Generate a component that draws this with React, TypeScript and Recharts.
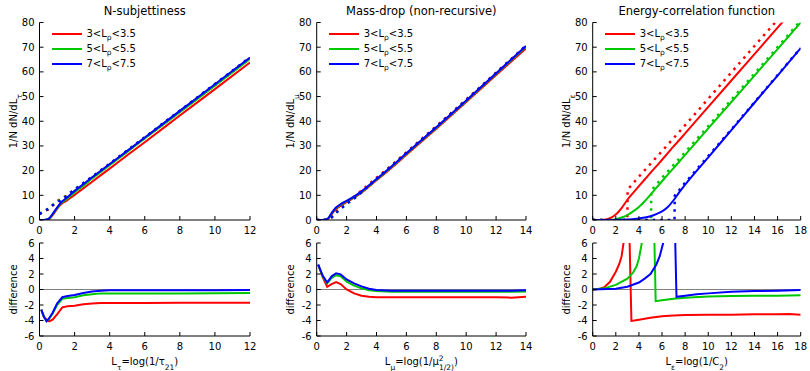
import { LineChart, Line, XAxis, YAxis, ReferenceLine, Legend } from 'recharts';
import type { ReactNode } from 'react';

const FONT = '"DejaVu Sans", "Liberation Sans", sans-serif';
const RED = '#ff0000';
const GREEN = '#00c800';
const BLUE = '#0000ff';
const BIN_NAMES = ['3<Lρ<3.5', '5<Lρ<5.5', '7<Lρ<7.5'];

const MAIN_Y_TICKS = [0, 10, 20, 30, 40, 50, 60, 70, 80];
const DIFF_Y_TICKS = [-6, -4, -2, 0, 2, 4, 6];
const TAU_TICKS = [0, 2, 4, 6, 8, 10, 12];
const MU_TICKS = [0, 2, 4, 6, 8, 10, 12, 14];
const ECF_TICKS = [0, 2, 4, 6, 8, 10, 12, 14, 16, 18];

// N-subjettiness: MC (solid) and analytic (dotted)
const tauX = [0, 0.25, 0.5, 0.75, 1, 1.25, 1.5, 2, 2.5, 3, 4, 5, 6, 8, 10, 12];
const tauRed = [0, 0, 0.2, 2, 4.5, 6.5, 7.6, 10.2, 12.8, 15.5, 20.8, 26.2, 31.5, 42.3, 53, 63.8];
const tauGreen = [0, 0, 0.3, 2.3, 4.8, 7, 8.2, 11.2, 13.9, 16.8, 22.2, 27.6, 33, 43.7, 54.4, 65.2];
const tauBlue = [0, 0, 0.4, 2.5, 5, 7.3, 8.7, 11.8, 14.5, 17.3, 22.7, 28, 33.4, 44.2, 55, 65.8];
const tauRedA = [2.4, 3.4, 4.3, 5.9, 7.6, 8.7, 9.7, 12.3, 14.7, 17.3, 22.5, 27.9, 33.2, 44, 54.7, 65.5];
const tauGreenA = [2.5, 3.5, 4.5, 6.1, 7.4, 8.5, 9.6, 12.3, 14.8, 17.4, 22.7, 28.1, 33.5, 44.2, 54.9, 65.7];
const tauBlueA = [2.5, 3.5, 4.5, 6.0, 7.0, 8.2, 9.5, 12.4, 15.0, 17.5, 22.8, 28.1, 33.5, 44.3, 55.1, 65.9];
const tauDX = [0.1, 0.25, 0.4, 0.55, 0.75, 1, 1.3, 1.6, 2, 2.5, 3, 3.5, 4, 5, 6, 8, 10, 12];
const tauDRed = [-2.6, -3.5, -3.9, -4.1, -3.9, -3.2, -2.3, -2.15, -2.1, -1.9, -1.8, -1.75, -1.75, -1.75, -1.75, -1.72, -1.72, -1.7];
const tauDGreen = [-2.6, -3.5, -4.1, -3.8, -3.1, -2.0, -1.2, -1.1, -1.0, -0.75, -0.6, -0.5, -0.5, -0.5, -0.5, -0.5, -0.48, -0.45];
const tauDBlue = [-2.6, -3.5, -4.1, -3.7, -3.0, -1.8, -1.0, -0.85, -0.7, -0.45, -0.25, -0.15, -0.1, -0.1, -0.1, -0.1, -0.1, -0.08];

// Mass-drop
const muX = [0, 0.25, 0.5, 0.75, 1, 1.25, 1.5, 2, 2.5, 3, 4, 5, 6, 8, 10, 12, 14];
const muRed = [0, 0, 0.1, 0.5, 2.4, 4.2, 5.4, 7.2, 9.0, 11.1, 16.1, 21.1, 26.4, 37.0, 47.8, 58.7, 69.5];
const muGreen = [0, 0, 0.1, 0.6, 2.7, 4.6, 5.8, 7.6, 9.3, 11.4, 16.4, 21.5, 26.8, 37.4, 48.2, 59.2, 70.2];
const muBlue = [0, 0, 0.1, 0.6, 2.8, 4.8, 6.0, 7.8, 9.5, 11.6, 16.6, 21.7, 27.0, 37.6, 48.4, 59.4, 70.5];
const muRedA = [0, 0, 0, 0.2, 1.7, 3.3, 4.7, 7.2, 9.5, 11.9, 17.1, 22.1, 27.4, 38.0, 48.8, 59.7, 70.5];
const muGreenA = [0, 0, 0, 0, 1.1, 2.8, 4.0, 6.6, 8.7, 11.2, 16.6, 21.8, 27.1, 37.7, 48.5, 59.5, 70.5];
const muBlueA = [0, 0, 0, 0, 1.0, 2.7, 4.0, 6.5, 8.7, 11.2, 16.7, 21.85, 27.15, 37.75, 48.55, 59.55, 70.6];
const muDX = [0.1, 0.4, 0.7, 1.0, 1.3, 1.6, 2, 2.5, 3, 3.5, 4, 5, 6, 8, 10, 12, 13, 14];
const muDRed = [3.2, 1.6, 0.35, 0.7, 0.95, 0.7, 0.0, -0.5, -0.8, -0.95, -1.0, -1.0, -1.0, -1.0, -1.0, -1.0, -1.05, -0.95];
const muDGreen = [3.2, 1.7, 0.8, 1.5, 1.85, 1.7, 1.0, 0.5, 0.15, -0.1, -0.2, -0.3, -0.3, -0.3, -0.3, -0.3, -0.3, -0.25];
const muDBlue = [3.2, 1.8, 0.9, 1.7, 2.1, 1.95, 1.3, 0.8, 0.4, 0.1, -0.05, -0.15, -0.15, -0.15, -0.15, -0.15, -0.15, -0.1];

// Energy-correlation function
const ecfX = [0, 1, 1.5, 2, 2.5, 3, 3.5, 4, 4.5, 5, 5.5, 6, 6.5, 7, 7.5, 8, 10, 12, 14, 16, 18];
const ecfRed = [0, 0.1, 0.7, 2.2, 4.8, 8.2, 11, 13.7, 16.4, 19.1, 21.7, 24.4, 27.1, 29.8, 32.4, 35.1, 45.8, 56.5, 67.2, 77.9, 88.6];
const ecfGreen = [0, 0, 0.05, 0.3, 1.0, 2.0, 3.5, 5.3, 7.6, 10.3, 13.0, 15.7, 18.4, 21.0, 23.7, 26.4, 37.1, 47.8, 58.5, 69.2, 80];
const ecfBlue = [0, 0, 0, 0.05, 0.1, 0.2, 0.35, 0.6, 1.0, 1.5, 2.4, 3.5, 5.3, 8.0, 11.3, 14.3, 25.4, 36.4, 47.5, 58.5, 69.6];
const ecfRedAX = [0, 3, 3.02, 4, 6, 8, 10, 12, 14, 16, 18];
const ecfRedA = [0, 0, 12.3, 17.6, 27.9, 38.4, 49.1, 59.8, 70.5, 81.1, 91.8];
const ecfGreenAX = [0, 5.05, 5.07, 6, 8, 10, 12, 14, 16, 18];
const ecfGreenA = [0, 0, 11.9, 17.1, 27.5, 38.0, 48.7, 59.3, 70.0, 80.8];
const ecfBlueAX = [0, 7.08, 7.1, 8, 10, 12, 14, 16, 18];
const ecfBlueA = [0, 0, 9.8, 15.1, 25.9, 36.7, 47.7, 58.7, 69.7];
const ecfDRedX = [0, 0.5, 1, 1.5, 2, 2.3, 2.5, 2.7, 2.9, 3.15, 3.35, 3.6, 4, 5, 6, 7, 8, 10, 12, 14, 16, 17, 18];
const ecfDRed = [0, 0.05, 0.3, 1.0, 2.3, 3.3, 4.3, 6.3, 9, 9, -4.05, -4.0, -3.9, -3.65, -3.45, -3.35, -3.3, -3.25, -3.25, -3.2, -3.2, -3.15, -3.25];
const ecfDGreenX = [0, 1, 2, 3, 3.5, 3.8, 4.0, 4.2, 4.6, 5.3, 5.45, 6, 7, 8, 10, 12, 14, 16, 18];
const ecfDGreen = [0, 0.15, 0.6, 1.4, 2.2, 3.0, 4.0, 5.6, 9, 9, -1.5, -1.4, -1.2, -1.05, -0.9, -0.85, -0.8, -0.8, -0.75];
const ecfDBlueX = [0, 2, 3, 4, 4.5, 5, 5.5, 5.8, 6.1, 6.6, 7.1, 7.25, 8, 9, 10, 12, 14, 16, 18];
const ecfDBlue = [0, 0.1, 0.35, 0.9, 1.4, 2.0, 3.2, 4.3, 6.0, 9, 9, -0.95, -0.8, -0.6, -0.5, -0.3, -0.2, -0.15, -0.05];

type Row = { x: number; y: number };
const rows = (xs: number[], ys: number[]): Row[] => xs.map((x, i) => ({ x, y: ys[i] }));

interface Curve {
  data: Row[];
  color: string;
  dotted?: boolean;
  smooth?: boolean;
  name?: string;
}

const mainCurves = (xs: number[], solid: number[][], dotted: { x: number[]; y: number[] }[]): Curve[] => {
  const colors = [RED, GREEN, BLUE];
  const out: Curve[] = [];
  colors.forEach((c, i) => {
    out.push({ data: rows(xs, solid[i]), color: c, smooth: true, name: BIN_NAMES[i] });
    out.push({ data: rows(dotted[i].x, dotted[i].y), color: c, dotted: true });
  });
  return out;
};

const diffCurves = (sets: { x: number[]; y: number[] }[]): Curve[] =>
  sets.map((s, i) => ({ data: rows(s.x, s.y), color: [RED, GREEN, BLUE][i] }));

const tickStyle = { fontSize: 10, fontFamily: FONT, fill: '#000' };
const noTick = () => <g />;

const sub = (t: string) => (
  <tspan baselineShift="sub" fontSize={7.5}>
    {t}
  </tspan>
);

const renderLegend = (props: any) => (
  <div style={{ fontFamily: FONT, fontSize: 10, color: '#000' }}>
    {(props.payload || [])
      .filter((e: any) => String(e.value).includes('Lρ'))
      .map((e: any, i: number) => {
        const parts = String(e.value).split('Lρ');
        return (
          <div key={i} style={{ display: 'flex', alignItems: 'center', height: 15, whiteSpace: 'nowrap' }}>
            <span style={{ display: 'inline-block', width: 30, height: 2, background: e.color, marginRight: 5 }} />
            <span>
              {parts[0]}L
              <span style={{ fontSize: 7.5, position: 'relative', top: 2.5 }}>ρ</span>
              {parts[1]}
            </span>
          </div>
        );
      })}
  </div>
);

interface PanelProps {
  left: number;
  top: number;
  width: number;
  height: number;
  axisW: number;
  padTop: number;
  padRight: number;
  axisH: number;
  xMax: number;
  xTicks: number[];
  yDomain: [number, number];
  yTicks: number[];
  curves: Curve[];
  yLabel: ReactNode;
  xLabel?: ReactNode;
  title?: string;
  zeroLine?: boolean;
  legend?: boolean;
}

function Panel(p: PanelProps) {
  const plotW = p.width - p.axisW - p.padRight;
  const yLabel = (lp: any) => {
    const vb = lp.viewBox;
    const x = vb.x + vb.width - 26;
    const y = vb.y + vb.height / 2;
    return (
      <text x={x} y={y} dy="0.35em" textAnchor="middle" transform={`rotate(-90 ${x} ${y})`} fontSize={10} fontFamily={FONT} fill="#000">
        {p.yLabel}
      </text>
    );
  };
  const xLabel = (lp: any) => {
    const vb = lp.viewBox;
    return (
      <text x={vb.x + vb.width / 2} y={vb.y + 29} textAnchor="middle" fontSize={10} fontFamily={FONT} fill="#000">
        {p.xLabel}
      </text>
    );
  };
  return (
    <div style={{ position: 'absolute', left: p.left, top: p.top, width: p.width, height: p.height }}>
      {p.title && (
        <div
          style={{
            position: 'absolute',
            left: p.axisW,
            width: plotW,
            top: 3,
            textAlign: 'center',
            fontFamily: FONT,
            fontSize: 11.5,
            lineHeight: '16px',
            color: '#000',
            whiteSpace: 'nowrap',
          }}
        >
          {p.title}
        </div>
      )}
      <LineChart
        width={p.width}
        height={p.height}
        margin={{ top: p.padTop, right: p.padRight, left: 0, bottom: 0 }}
        style={{ fontFamily: FONT }}
      >
        <XAxis
          dataKey="x"
          type="number"
          domain={[0, p.xMax]}
          ticks={p.xTicks}
          interval={0}
          allowDataOverflow
          height={p.axisH}
          stroke="#000"
          tickSize={-4}
          tickMargin={11}
          tick={tickStyle}
          label={p.xLabel ? xLabel : undefined}
        />
        <XAxis
          xAxisId="top"
          orientation="top"
          dataKey="x"
          type="number"
          domain={[0, p.xMax]}
          ticks={p.xTicks}
          interval={0}
          allowDataOverflow
          height={0}
          stroke="#000"
          tickSize={-4}
          tick={noTick}
        />
        <YAxis
          type="number"
          domain={p.yDomain}
          ticks={p.yTicks}
          interval={0}
          allowDataOverflow
          width={p.axisW}
          stroke="#000"
          tickSize={-4}
          tickMargin={9}
          tick={tickStyle}
          label={yLabel}
        />
        <YAxis
          yAxisId="right"
          orientation="right"
          type="number"
          domain={p.yDomain}
          ticks={p.yTicks}
          interval={0}
          allowDataOverflow
          width={0}
          stroke="#000"
          tickSize={-4}
          tick={noTick}
        />
        {p.zeroLine && <ReferenceLine y={0} stroke="#808080" strokeWidth={1} />}
        {p.curves.map((c, i) => (
          <Line
            key={i}
            data={c.data}
            dataKey="y"
            name={c.name}
            type={c.smooth ? 'monotone' : 'linear'}
            stroke={c.color}
            strokeWidth={c.dotted ? 2.5 : 2}
            strokeDasharray={c.dotted ? '2.5 5' : undefined}
            dot={false}
            activeDot={false}
            legendType={c.dotted ? 'none' : 'line'}
            isAnimationActive={false}
          />
        ))}
        {p.legend && (
          <Legend
            layout="horizontal"
            verticalAlign="middle"
            align="center"
            wrapperStyle={{ left: p.axisW + 12, top: 26, width: 'auto', height: 'auto' }}
            content={renderLegend}
          />
        )}
      </LineChart>
    </div>
  );
}

const MAIN = { top: 0, height: 236, padTop: 22.5, axisH: 16, yDomain: [0, 80] as [number, number], yTicks: MAIN_Y_TICKS };
const DIFF = { top: 236, height: 135, padTop: 7, axisH: 35, yDomain: [-6, 6] as [number, number], yTicks: DIFF_Y_TICKS };

export default function App() {
  const cols = [
    {
      left: 0,
      axisW: 39.5,
      padRight: 20,
      xMax: 12,
      xTicks: TAU_TICKS,
      title: 'N-subjettiness',
      yLabel: <>1/N dN/dL{sub('τ')}</>,
      xLabel: <>L{sub('τ')}=log(1/τ{sub('21')})</>,
      main: mainCurves(tauX, [tauRed, tauGreen, tauBlue], [
        { x: tauX, y: tauRedA },
        { x: tauX, y: tauGreenA },
        { x: tauX, y: tauBlueA },
      ]),
      diff: diffCurves([
        { x: tauDX, y: tauDRed },
        { x: tauDX, y: tauDGreen },
        { x: tauDX, y: tauDBlue },
      ]),
    },
    {
      left: 270,
      axisW: 46.7,
      padRight: 14,
      xMax: 14,
      xTicks: MU_TICKS,
      title: 'Mass-drop (non-recursive)',
      yLabel: <>1/N dN/dL{sub('μ')}</>,
      xLabel: (
        <>
          L{sub('μ')}=log(1/μ
          <tspan baselineShift="super" fontSize={7.5}>2</tspan>
          <tspan dx={-4.7} baselineShift="sub" fontSize={7.5}>1/2)</tspan>)
        </>
      ),
      main: mainCurves(muX, [muRed, muGreen, muBlue], [
        { x: muX, y: muRedA },
        { x: muX, y: muGreenA },
        { x: muX, y: muBlueA },
      ]),
      diff: diffCurves([
        { x: muDX, y: muDRed },
        { x: muDX, y: muDGreen },
        { x: muDX, y: muDBlue },
      ]),
    },
    {
      left: 540,
      axisW: 52.7,
      padRight: 9.3,
      xMax: 18,
      xTicks: ECF_TICKS,
      title: 'Energy-correlation function',
      yLabel: <>1/N dN/dL{sub('ε')}</>,
      xLabel: <>L{sub('ε')}=log(1/C{sub('2')})</>,
      main: mainCurves(ecfX, [ecfRed, ecfGreen, ecfBlue], [
        { x: ecfRedAX, y: ecfRedA },
        { x: ecfGreenAX, y: ecfGreenA },
        { x: ecfBlueAX, y: ecfBlueA },
      ]),
      diff: diffCurves([
        { x: ecfDRedX, y: ecfDRed },
        { x: ecfDGreenX, y: ecfDGreen },
        { x: ecfDBlueX, y: ecfDBlue },
      ]),
    },
  ];

  return (
    <div style={{ position: 'absolute', left: 0, top: 0, width: 810, height: 371, background: '#fff', fontFamily: FONT }}>
      {cols.map((c, i) => (
        <div key={i}>
          <Panel
            left={c.left}
            top={MAIN.top}
            width={270}
            height={MAIN.height}
            axisW={c.axisW}
            padTop={MAIN.padTop}
            padRight={c.padRight}
            axisH={MAIN.axisH}
            xMax={c.xMax}
            xTicks={c.xTicks}
            yDomain={MAIN.yDomain}
            yTicks={MAIN.yTicks}
            curves={c.main}
            yLabel={c.yLabel}
            title={c.title}
            legend
          />
          <Panel
            left={c.left}
            top={DIFF.top}
            width={270}
            height={DIFF.height}
            axisW={c.axisW}
            padTop={DIFF.padTop}
            padRight={c.padRight}
            axisH={DIFF.axisH}
            xMax={c.xMax}
            xTicks={c.xTicks}
            yDomain={DIFF.yDomain}
            yTicks={DIFF.yTicks}
            curves={c.diff}
            yLabel="difference"
            xLabel={c.xLabel}
            zeroLine
          />
        </div>
      ))}
    </div>
  );
}
